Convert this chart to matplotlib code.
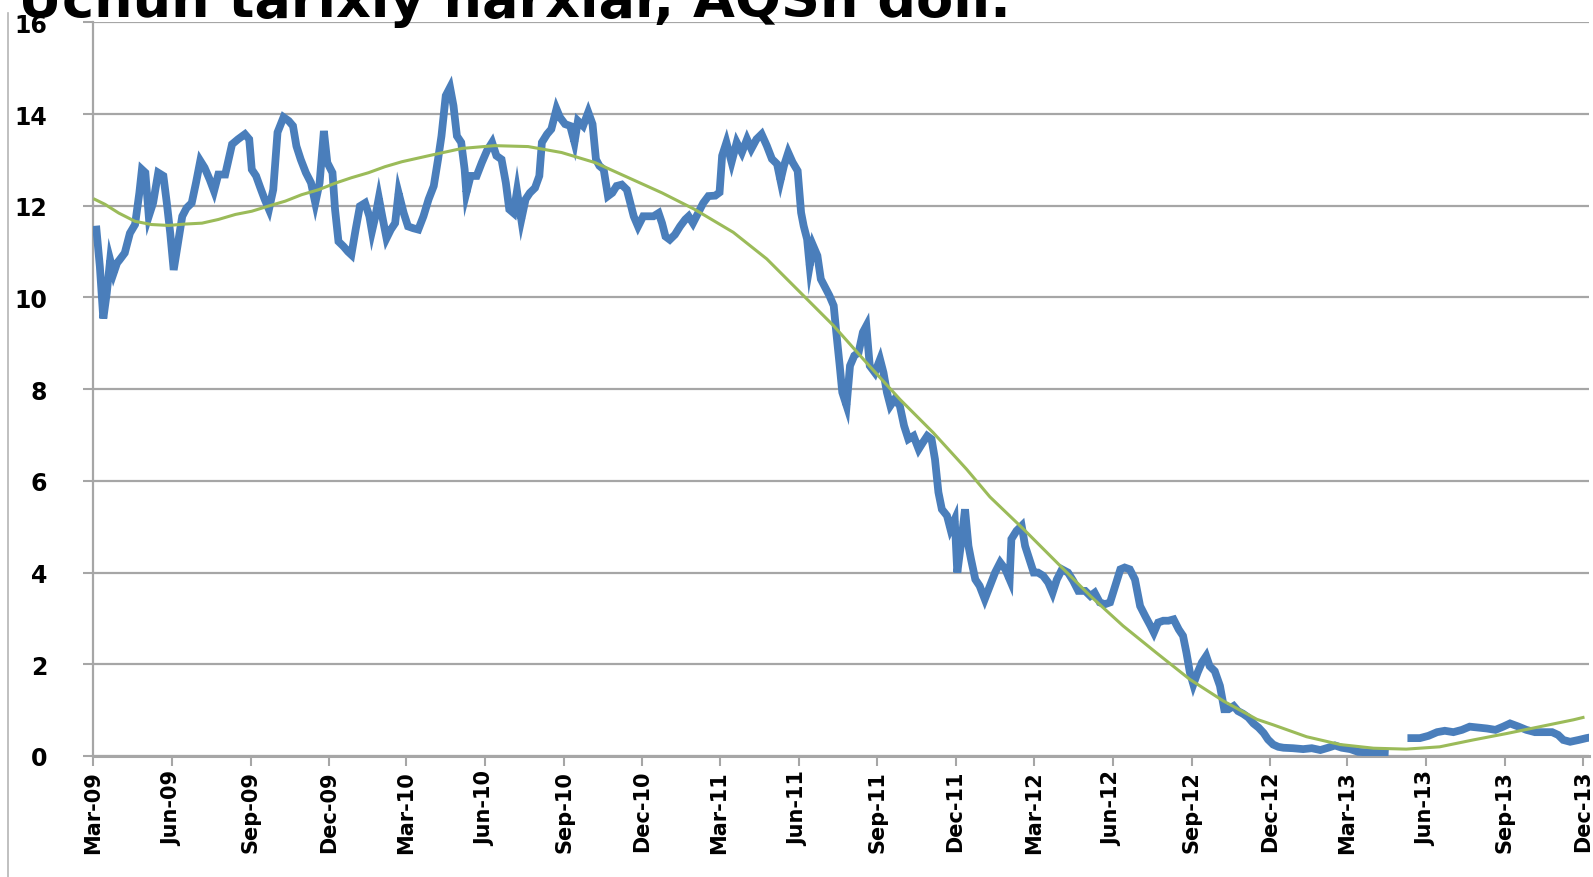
import numpy as np
import pandas as pd
import matplotlib
matplotlib.use('Agg')
import matplotlib.pyplot as plt
from matplotlib.lines import Line2D

# title (top of the text is cut off in the source picture)
title = "Uchun tarixiy narxlar, AQSh doll."

# daily price: days since 1 Mar 2009 / value
blue_day = [4, 8, 12, 16, 20, 24, 28, 31, 37, 43, 49, 54, 57, 61, 65, 70, 76, 82, 86, 90,
            94, 99, 104, 109, 115, 120, 125, 130, 136, 141, 146, 154, 162, 169, 177, 182, 185, 190, 195, 200,
            205, 210, 215, 222, 228, 233, 237, 242, 248, 254, 259, 264, 269, 273, 279, 282, 286, 292, 297, 301,
            306, 311, 317, 322, 325, 329, 333, 337, 342, 347, 352, 356, 362, 367, 373, 379, 385, 391, 397, 402,
            406, 411, 416, 420, 424, 429, 433, 435, 440, 447, 453, 459, 465, 470, 476, 481, 485, 490, 494, 499,
            504, 509, 515, 520, 523, 529, 534, 540, 544, 550, 556, 561, 565, 571, 577, 582, 586, 590, 595, 600,
            605, 610, 616, 622, 626, 630, 635, 641, 647, 653, 659, 663, 667, 672, 678, 684, 690, 694, 699, 705,
            711, 717, 725, 730, 733, 738, 744, 750, 756, 762, 767, 773, 779, 785, 791, 797, 801, 805, 810, 815,
            821, 825, 828, 832, 835, 839, 844, 848, 853, 858, 863, 866, 870, 873, 878, 882, 887, 892, 897, 901,
            905, 911, 917, 921, 925, 929, 934, 940, 945, 950, 956, 962, 967, 972, 977, 981, 985, 989, 995, 999,
            1004, 1007, 1012, 1016, 1020, 1023, 1028, 1033, 1039, 1045, 1051, 1057, 1063, 1068, 1070, 1076, 1082, 1086, 1091, 1096,
            1101, 1107, 1113, 1118, 1123, 1129, 1136, 1142, 1148, 1156, 1162, 1167, 1173, 1179, 1185, 1191, 1197, 1202, 1208, 1214,
            1220, 1226, 1232, 1236, 1241, 1247, 1253, 1259, 1265, 1270, 1274, 1278, 1282, 1287, 1292, 1297, 1301, 1307, 1313, 1318,
            1323, 1329, 1334, 1340, 1346, 1352, 1358, 1364, 1369, 1375, 1381, 1387, 1398, 1410, 1420, 1430, 1439, 1447, 1455, 1465,
            1474, 1484, 1494, 1505, 1520, 1536, 1546, 1556, 1566, 1575, 1585, 1595, 1604, 1614, 1624, 1634, 1643, 1651, 1661, 1670,
            1680, 1690, 1700, 1707, 1713, 1721, 1731, 1740, 1743]
blue_val = [11.48, 10.67, 9.54, 10.09, 10.82, 10.53, 10.75, 10.82, 10.97, 11.4, 11.59, 12.28, 12.79, 12.72, 11.77, 12.06, 12.72, 12.65, 12.06, 11.4,
            10.6, 11.18, 11.77, 11.95, 12.06, 12.5, 12.98, 12.83, 12.57, 12.32, 12.68, 12.68, 13.34, 13.45, 13.56, 13.45, 12.79, 12.65, 12.39, 12.14,
            11.92, 12.35, 13.6, 13.93, 13.85, 13.74, 13.3, 13.01, 12.72, 12.5, 12.06, 12.5, 13.63, 12.94, 12.72, 11.92, 11.22, 11.11, 11.0, 10.93,
            11.48, 11.99, 12.06, 11.77, 11.44, 11.77, 12.17, 11.77, 11.29, 11.48, 11.62, 12.28, 11.84, 11.55, 11.51, 11.48, 11.77, 12.14, 12.43, 13.01,
            13.52, 14.4, 14.58, 14.18, 13.52, 13.38, 12.79, 12.28, 12.65, 12.65, 12.94, 13.2, 13.38, 13.09, 13.01, 12.5, 11.92, 11.84, 12.32, 11.7,
            12.14, 12.28, 12.39, 12.65, 13.38, 13.56, 13.67, 14.11, 13.93, 13.78, 13.74, 13.38, 13.85, 13.74, 14.04, 13.78, 13.01, 12.87, 12.79, 12.21,
            12.28, 12.43, 12.46, 12.35, 12.06, 11.77, 11.55, 11.77, 11.77, 11.77, 11.84, 11.62, 11.33, 11.26, 11.37, 11.55, 11.7, 11.77, 11.62, 11.84,
            12.06, 12.21, 12.22, 12.29, 13.09, 13.38, 12.95, 13.38, 13.16, 13.45, 13.24, 13.45, 13.56, 13.31, 13.02, 12.91, 12.55, 12.87, 13.16, 12.95,
            12.76, 11.85, 11.56, 11.27, 10.69, 11.13, 10.91, 10.4, 10.22, 10.04, 9.82, 9.24, 8.51, 7.93, 7.64, 8.51, 8.73, 8.8, 9.24, 9.38,
            8.51, 8.36, 8.65, 8.36, 7.93, 7.64, 7.78, 7.64, 7.2, 6.91, 6.98, 6.69, 6.84, 6.98, 6.91, 6.47, 5.75, 5.38, 5.24, 4.95,
            5.16, 4.0, 4.73, 5.38, 4.58, 4.29, 3.85, 3.71, 3.42, 3.71, 4.0, 4.22, 4.07, 3.85, 4.73, 4.91, 5.02, 4.58, 4.29, 4.0,
            4.0, 3.93, 3.78, 3.56, 3.85, 4.07, 4.0, 3.82, 3.6, 3.6, 3.49, 3.56, 3.35, 3.31, 3.35, 3.71, 4.07, 4.11, 4.07, 3.85,
            3.27, 3.05, 2.84, 2.69, 2.91, 2.95, 2.95, 2.98, 2.76, 2.62, 2.25, 1.82, 1.56, 1.82, 2.04, 2.18, 1.96, 1.85, 1.53, 1.02,
            1.02, 1.09, 0.98, 0.92, 0.84, 0.71, 0.62, 0.5, 0.36, 0.25, 0.2, 0.18, 0.17, 0.15, 0.17, 0.13, 0.18, 0.23, 0.18, 0.15,
            0.09, 0.08, 0.07, 0.06, np.nan, 0.39, 0.39, 0.44, 0.52, 0.55, 0.52, 0.57, 0.64, 0.62, 0.6, 0.57, 0.64, 0.71, 0.64, 0.57,
            0.52, 0.52, 0.52, 0.46, 0.35, 0.31, 0.35, 0.39, 0.4]

# trend line
trend_day = [2, 14, 30, 49, 68, 88, 107, 127, 146, 166, 185, 204, 224, 243, 263, 282, 301, 321, 340, 360,
             391, 430, 468, 507, 546, 585, 624, 663, 701, 746, 785, 824, 863, 901, 940, 979, 1018, 1045, 1084, 1123,
             1162, 1200, 1239, 1278, 1317, 1356, 1375, 1414, 1453, 1492, 1530, 1569, 1608, 1647, 1686, 1725, 1736]
trend_val = [12.14, 12.03, 11.84, 11.66, 11.59, 11.57, 11.6, 11.62, 11.7, 11.81, 11.88, 11.99, 12.1, 12.24, 12.35, 12.49, 12.61, 12.72, 12.85, 12.96,
             13.09, 13.25, 13.31, 13.29, 13.16, 12.94, 12.61, 12.28, 11.92, 11.42, 10.84, 10.11, 9.38, 8.58, 7.78, 7.05, 6.25, 5.65, 4.95, 4.22,
             3.49, 2.84, 2.25, 1.67, 1.2, 0.8, 0.68, 0.42, 0.25, 0.17, 0.15, 0.2, 0.35, 0.49, 0.64, 0.79, 0.84]

y_ticks = list(range(0, 17, 2))

base = pd.Timestamp('2009-03-01')
bx = base + pd.to_timedelta(blue_day, unit='D')
tx = base + pd.to_timedelta(trend_day, unit='D')

W, H = 1593, 878
fig = plt.figure(figsize=(W / 100, H / 100), dpi=100)
ax = fig.add_axes([93 / W, 1 - 757 / H, (1589 - 93) / W, (757 - 23.3) / H])

ax.plot(bx, blue_val, color='#4a7ebb', lw=5.6, solid_joinstyle='miter', zorder=3)
ax.plot(tx, trend_val, color='#9bbb59', lw=2.2, zorder=4)

ax.set_ylim(0, 16)
ax.set_yticks(y_ticks)
ax.set_xlim(base, base + pd.Timedelta(days=1743))
xt = pd.date_range('2009-03-01', '2013-12-01', freq='QS-MAR')
ax.set_xticks(xt)
ax.set_xticklabels([d.strftime('%b-%y') for d in xt], rotation=90,
                   fontsize=15, fontweight='bold', family=['DejaVu Sans'])
for lab in ax.get_yticklabels():
    lab.set_family(['Liberation Sans Narrow', 'DejaVu Sans'])
    lab.set_fontweight('bold')
    lab.set_fontsize(17)

ax.yaxis.grid(True, color='#a6a6a6', lw=1.6)
ax.set_axisbelow(True)
for s in ['top', 'right']:
    ax.spines[s].set_visible(False)
ax.spines['left'].set_color('#a6a6a6')
ax.spines['left'].set_linewidth(1.6)
ax.spines['bottom'].set_color('#a6a6a6')
ax.spines['bottom'].set_linewidth(2.2)
ax.tick_params(axis='x', length=7, width=1.5, color='#a6a6a6', pad=3)
ax.tick_params(axis='y', length=7, width=1.5, color='#a6a6a6', pad=26)

fig.add_artist(Line2D([8 / W, 8 / W], [0, 1 - 14 / H], color='#b5b5b5', lw=1.2))
fig.text(18 / W, 1 - 17 / H, title, fontsize=39, fontweight='bold', va='baseline', ha='left')

fig.savefig('out.png', dpi=100)
